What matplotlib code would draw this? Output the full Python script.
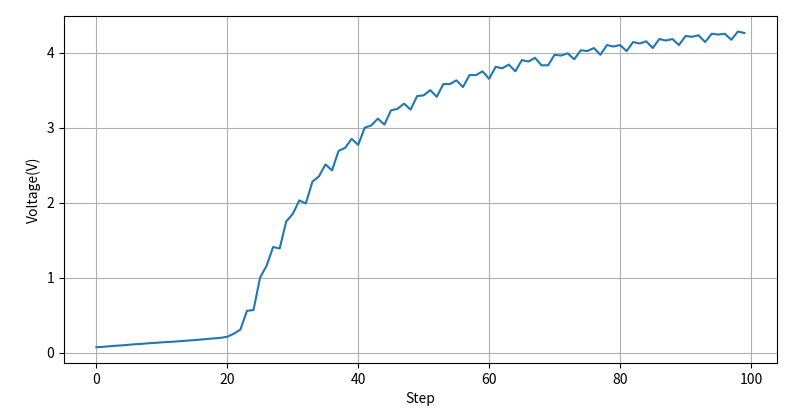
import matplotlib
matplotlib.use("Agg")
import matplotlib.pyplot as plt

plt.rcParams['font.family'] = ['Noto Sans CJK SC', 'DejaVu Sans']
plt.rcParams['axes.unicode_minus'] = False

steps = list(range(100))
voltage = [0.075, 0.08, 0.088, 0.095, 0.10, 0.108, 0.115, 0.12, 0.128, 0.133,
           0.14, 0.145, 0.15, 0.157, 0.163, 0.17, 0.177, 0.185, 0.193, 0.20,
           0.215, 0.255, 0.31, 0.56, 0.57, 1.0, 1.16, 1.41, 1.39, 1.75,
           1.85, 2.03, 1.99, 2.28, 2.35, 2.51, 2.43, 2.69, 2.73, 2.85,
           2.77, 3.0, 3.03, 3.12, 3.04, 3.23, 3.25, 3.32, 3.24, 3.42,
           3.43, 3.50, 3.41, 3.58, 3.58, 3.63, 3.54, 3.70, 3.70, 3.75,
           3.65, 3.81, 3.79, 3.84, 3.75, 3.90, 3.88, 3.93, 3.83, 3.83,
           3.97, 3.96, 3.99, 3.91, 4.03, 4.02, 4.06, 3.97, 4.10, 4.08,
           4.10, 4.02, 4.14, 4.12, 4.15, 4.06, 4.18, 4.16, 4.18, 4.10,
           4.22, 4.21, 4.23, 4.14, 4.25, 4.24, 4.25, 4.17, 4.28, 4.26]

fig = plt.figure(figsize=(8, 4.09), dpi=100)
ax = fig.add_axes([0.08, 0.1125, 0.891, 0.849])
ax.plot(steps, voltage)
ax.set_xlabel("Step")
ax.set_ylabel("Voltage(V)")
ax.grid(True)

fig.savefig("out.png", dpi=100)
